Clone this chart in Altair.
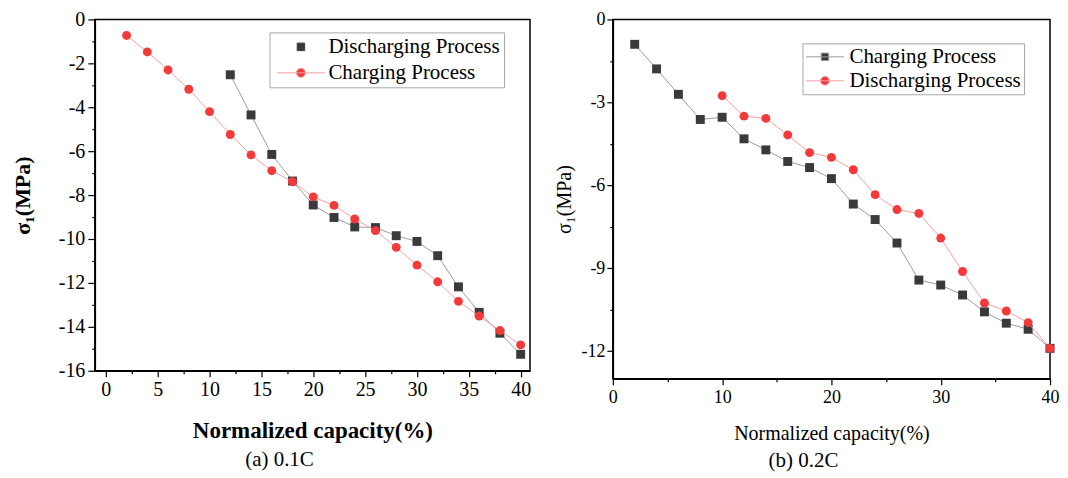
import altair as alt
import pandas as pd

# ---------------- data ----------------
# (a) 0.1C
a_dis_x = [12, 14, 16, 18, 20, 22, 24, 26, 28, 30, 32, 34, 36, 38, 40]
a_dis_y = [-2.52, -4.35, -6.15, -7.36, -8.45, -9.02, -9.45, -9.48, -9.85, -10.11, -10.76, -12.18, -13.34, -14.29, -15.25]
a_chg_x = [2, 4, 6, 8, 10, 12, 14, 16, 18, 20, 22, 24, 26, 28, 30, 32, 34, 36, 38, 40]
a_chg_y = [-0.73, -1.48, -2.3, -3.18, -4.2, -5.24, -6.17, -6.89, -7.39, -8.08, -8.47, -9.09, -9.62, -10.38, -11.19, -11.95, -12.84, -13.51, -14.17, -14.82]

# (b) 0.2C
b_chg_x = [2, 4, 6, 8, 10, 12, 14, 16, 18, 20, 22, 24, 26, 28, 30, 32, 34, 36, 38, 40]
b_chg_y = [-0.9, -1.79, -2.71, -3.62, -3.54, -4.32, -4.72, -5.14, -5.36, -5.76, -6.68, -7.24, -8.09, -9.43, -9.61, -9.97, -10.58, -10.99, -11.21, -11.9]
b_dis_x = [10, 12, 14, 16, 18, 20, 22, 24, 26, 28, 30, 32, 34, 36, 38, 40]
b_dis_y = [-2.76, -3.5, -3.58, -4.18, -4.82, -4.99, -5.44, -6.34, -6.88, -7.02, -7.91, -9.12, -10.26, -10.55, -10.97, -11.9]

DIS = "Discharging Process"
CHG = "Charging Process"

a_x_ticks = [0, 2.5, 5, 7.5, 10, 12.5, 15, 17.5, 20, 22.5, 25, 27.5, 30, 32.5, 35, 37.5, 40]
a_y_ticks = [-16, -15, -14, -13, -12, -11, -10, -9, -8, -7, -6, -5, -4, -3, -2, -1, 0]
b_x_ticks = [0, 5, 10, 15, 20, 25, 30, 35, 40]
b_y_ticks = [-12, -10.5, -9, -7.5, -6, -4.5, -3, -1.5, 0]

DARK = "#3a3a3a"
RED = "#f23a3a"
GRAY_LINE = "#9c9c9c"
PINK_LINE = "#f5a0a0"
FONT = "Liberation Serif"

a_dis = pd.DataFrame({"x": a_dis_x, "y": a_dis_y, "series": DIS})
a_chg = pd.DataFrame({"x": a_chg_x, "y": a_chg_y, "series": CHG})
b_chg = pd.DataFrame({"x": b_chg_x, "y": b_chg_y, "series": CHG})
b_dis = pd.DataFrame({"x": b_dis_x, "y": b_dis_y, "series": DIS})

# legend symbol paths (unit box scaled by symbol size)
SQ = "M-0.75,-0.75H0.75V0.75H-0.75Z"
def circ(r):
    return f"M-{r},0A{r},{r} 0 1,0 {r},0A{r},{r} 0 1,0 -{r},0Z"


def panel(series, xdom, ydom, xticks, ymaj, yticks, xmaj, width, height,
          tick_font, title_font, title_bold, ytitle_font, ytitle_bold,
          x_title_pad, y_title_pad, x_label_pad, y_label_pad, maj_x_tick, maj_y_tick,
          legend_order, legend_shapes, legend_fill, legend_stroke, legend_props,
          caption, cap_dx, cap_offset):
    xs = alt.Scale(domain=xdom, nice=False, zero=False)
    ys = alt.Scale(domain=ydom, nice=False, zero=False)
    xts = {"condition": {"test": f"datum.value % {xmaj} === 0", "value": maj_x_tick}, "value": 3}
    yts = {"condition": {"test": f"datum.value % {ymaj} === 0", "value": maj_y_tick}, "value": 3}
    xaxis = alt.Axis(
        values=xticks, title="Normalized capacity(%)", grid=False,
        labelExpr=f"datum.value % {xmaj} === 0 ? '' + datum.value : ''",
        tickSize=xts,
        labelFont=FONT, labelFontSize=tick_font, labelColor="black", labelPadding=x_label_pad,
        labelOverlap=False, labelFlush=False,
        titleFont=FONT, titleFontSize=title_font, titleFontWeight="bold" if title_bold else "normal",
        titleColor="black", titlePadding=x_title_pad,
        domainColor="black", domainWidth=1.5, tickColor="black", tickWidth=1.2,
    )
    yaxis = alt.Axis(
        values=yticks, title="σ₁(MPa)", grid=False,
        labelExpr=f"datum.value % {ymaj} === 0 ? '' + datum.value : ''",
        tickSize=yts,
        labelFont=FONT, labelFontSize=tick_font, labelColor="black", labelPadding=y_label_pad,
        labelOverlap=False, labelFlush=False,
        titleFont=FONT, titleFontSize=ytitle_font, titleFontWeight="bold" if ytitle_bold else "normal",
        titleColor="black", titlePadding=y_title_pad,
        domainColor="black", domainWidth=1.5, tickColor="black", tickWidth=1.2,
    )
    X = alt.X("x:Q", scale=xs, axis=xaxis)
    Y = alt.Y("y:Q", scale=ys, axis=yaxis)
    layers = []
    for df, line_col, pt_col, shape in series:
        layers.append(alt.Chart(df).mark_line(color=line_col, strokeWidth=1).encode(x=X, y=Y))
        layers.append(alt.Chart(df).mark_point(shape=shape, filled=True, color=pt_col, opacity=1, size=80)
                      .encode(x=X, y=Y))
    leg = alt.Legend(title=None, orient="none", labelFont=FONT, labelFontSize=21, labelColor="black",
                     labelLimit=0, strokeColor="#a8a8a8", fillColor="white", symbolSize=100,
                     symbolStrokeWidth=1, symbolOpacity=1, **legend_props)
    all_df = pd.concat([s[0] for s in series])
    leg_layer = alt.Chart(all_df).transform_filter("false").mark_point(filled=True, size=100, opacity=1).encode(
        x=X, y=Y,
        fill=alt.Fill("series:N", scale=alt.Scale(domain=legend_order, range=legend_fill), legend=leg),
        stroke=alt.Stroke("series:N", scale=alt.Scale(domain=legend_order, range=legend_stroke), legend=leg),
        shape=alt.Shape("series:N", scale=alt.Scale(domain=legend_order, range=legend_shapes), legend=leg),
    )
    layers.append(leg_layer)
    return alt.layer(*layers).properties(
        width=width, height=height,
        title=alt.TitleParams(caption, orient="bottom", anchor="middle", frame="group", dx=cap_dx,
                              offset=cap_offset, font=FONT, fontSize=21, fontWeight="normal", color="black"),
    )


left = panel(
    series=[(a_dis, GRAY_LINE, DARK, "square"), (a_chg, PINK_LINE, RED, "circle")],
    xdom=[-1.06, 40.9], ydom=[-16, 0], xticks=a_x_ticks, xmaj=5, yticks=a_y_ticks, ymaj=2,
    width=436, height=352, tick_font=20, title_font=23, title_bold=True, ytitle_font=22, ytitle_bold=True,
    x_title_pad=20, y_title_pad=24, x_label_pad=3, y_label_pad=3, maj_x_tick=6, maj_y_tick=7,
    legend_order=[DIS, CHG],
    legend_shapes=[SQ, "M-4.8,0H4.8" + circ(0.9)],
    legend_fill=[DARK, RED], legend_stroke=[DARK, PINK_LINE],
    legend_props=dict(legendX=175, legendY=13, padding=4, symbolOffset=17, labelOffset=17, rowPadding=4),
    caption="(a) 0.1C", cap_dx=-33, cap_offset=6,
)

right = panel(
    series=[(b_chg, GRAY_LINE, DARK, "square"), (b_dis, PINK_LINE, RED, "circle")],
    xdom=[0, 40], ydom=[-13, 0], xticks=b_x_ticks, xmaj=10, yticks=b_y_ticks, ymaj=3,
    width=438, height=360, tick_font=18, title_font=20, title_bold=False, ytitle_font=20, ytitle_bold=False,
    x_title_pad=17, y_title_pad=6, x_label_pad=4, y_label_pad=2, maj_x_tick=6, maj_y_tick=6,
    legend_order=[CHG, DIS],
    legend_shapes=["M-3.8,0H3.8" + SQ, "M-3.8,0H3.8" + circ(0.88)],
    legend_fill=[DARK, RED], legend_stroke=[GRAY_LINE, PINK_LINE],
    legend_props=dict(legendX=190, legendY=24, padding=3, symbolOffset=9, labelOffset=14, rowPadding=2),
    caption="(b) 0.2C", cap_dx=-28, cap_offset=6,
)

chart = alt.hconcat(left, right, spacing=22).resolve_scale(
    fill="independent", stroke="independent", shape="independent"
).resolve_legend(fill="independent", stroke="independent", shape="independent").properties(
    padding={"left": 2, "top": 0, "right": 0, "bottom": 0}, background="white"
).configure(font=FONT).configure_view(stroke="black", strokeWidth=1.5).configure_axis(
    grid=False, labelFont=FONT, titleFont=FONT
).configure_legend(labelFont=FONT).configure_title(font=FONT)

chart.save("out.html", embed_options={"renderer": "svg", "actions": False})
